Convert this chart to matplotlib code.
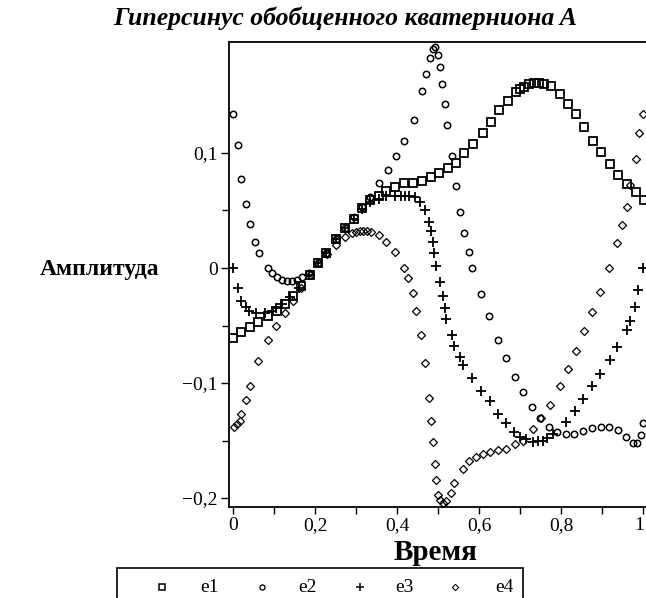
import matplotlib
matplotlib.use("Agg")
import matplotlib.pyplot as plt
import matplotlib.transforms as mtransforms
from matplotlib.lines import Line2D
from matplotlib.patches import Rectangle

plt.rcParams['font.family'] = ['Liberation Serif', 'DejaVu Serif']

# ---- data ----
e1_x = [0.00, 0.02, 0.042, 0.062, 0.086, 0.108, 0.128, 0.147, 0.166, 0.188, 0.208, 0.228,
        0.252, 0.274, 0.294, 0.314, 0.335, 0.355, 0.374, 0.396, 0.416, 0.440, 0.460, 0.482,
        0.502, 0.524, 0.543, 0.563, 0.585, 0.609, 0.629, 0.648, 0.670, 0.690, 0.700, 0.709,
        0.722, 0.734, 0.746, 0.758, 0.776, 0.797, 0.817, 0.837, 0.856, 0.878, 0.898, 0.920,
        0.939, 0.961, 0.983, 1.003]
e1_y = [-0.061, -0.056, -0.051, -0.047, -0.042, -0.037, -0.031, -0.024, -0.016, -0.006, 0.004, 0.013,
        0.025, 0.035, 0.043, 0.052, 0.059, 0.063, 0.067, 0.070, 0.074, 0.074, 0.076, 0.079,
        0.083, 0.087, 0.091, 0.100, 0.108, 0.117, 0.127, 0.137, 0.145, 0.153, 0.156, 0.157,
        0.160, 0.161, 0.161, 0.160, 0.158, 0.151, 0.143, 0.134, 0.123, 0.110, 0.101, 0.090,
        0.081, 0.073, 0.066, 0.059]

e2_x = [0.000, 0.012, 0.020, 0.032, 0.042, 0.054, 0.063, 0.086, 0.095, 0.108, 0.120, 0.132,
        0.144, 0.156, 0.168, 0.186, 0.208, 0.228, 0.252, 0.274, 0.294, 0.314, 0.335, 0.356,
        0.378, 0.398, 0.417, 0.442, 0.461, 0.471, 0.481, 0.489, 0.493, 0.500, 0.505, 0.510,
        0.516, 0.523, 0.533, 0.543, 0.553, 0.563, 0.575, 0.583, 0.605, 0.625, 0.646, 0.666,
        0.688, 0.708, 0.730, 0.749, 0.771, 0.790, 0.812, 0.832, 0.854, 0.876, 0.898, 0.917,
        0.939, 0.958, 0.975, 0.985, 0.995, 1.000]
e2_y = [0.134, 0.107, 0.077, 0.056, 0.038, 0.023, 0.013, 0.000, -0.004, -0.008, -0.010, -0.011,
        -0.011, -0.010, -0.008, -0.004, 0.004, 0.013, 0.025, 0.035, 0.044, 0.053, 0.062, 0.074,
        0.085, 0.097, 0.110, 0.129, 0.154, 0.169, 0.183, 0.190, 0.192, 0.185, 0.175, 0.160,
        0.143, 0.124, 0.097, 0.071, 0.049, 0.030, 0.014, 0.000, -0.023, -0.042, -0.063, -0.078,
        -0.095, -0.108, -0.121, -0.130, -0.138, -0.143, -0.144, -0.144, -0.142, -0.139, -0.138, -0.138,
        -0.141, -0.147, -0.152, -0.152, -0.145, -0.135]

e3_x = [0.000, 0.012, 0.020, 0.031, 0.040, 0.056, 0.078, 0.095, 0.105, 0.120, 0.140, 0.160,
        0.185, 0.208, 0.228, 0.252, 0.274, 0.294, 0.314, 0.335, 0.355, 0.374, 0.395, 0.410,
        0.420, 0.430, 0.445, 0.456, 0.468, 0.478, 0.483, 0.487, 0.491, 0.496, 0.505, 0.512,
        0.516, 0.520, 0.534, 0.540, 0.553, 0.561, 0.583, 0.605, 0.627, 0.646, 0.666, 0.685,
        0.700, 0.715, 0.732, 0.744, 0.756, 0.766, 0.780, 0.812, 0.834, 0.854, 0.876, 0.895,
        0.920, 0.937, 0.961, 0.968, 0.980, 0.988, 1.000]
e3_y = [0.000, -0.017, -0.029, -0.034, -0.037, -0.039, -0.039, -0.037, -0.035, -0.031, -0.025, -0.017,
        -0.006, 0.004, 0.013, 0.025, 0.035, 0.043, 0.051, 0.057, 0.060, 0.063, 0.063, 0.063,
        0.063, 0.063, 0.062, 0.057, 0.050, 0.040, 0.032, 0.023, 0.013, 0.002, -0.012, -0.024,
        -0.035, -0.044, -0.058, -0.068, -0.077, -0.084, -0.096, -0.107, -0.116, -0.127, -0.135, -0.143,
        -0.147, -0.149, -0.151, -0.150, -0.150, -0.148, -0.144, -0.134, -0.124, -0.114, -0.103, -0.092,
        -0.080, -0.069, -0.054, -0.046, -0.034, -0.019, 0.000]

e4_x = [0.003, 0.010, 0.017, 0.020, 0.032, 0.042, 0.062, 0.085, 0.105, 0.127, 0.146, 0.166,
        0.188, 0.208, 0.230, 0.252, 0.274, 0.290, 0.300, 0.310, 0.318, 0.326, 0.336, 0.355,
        0.374, 0.396, 0.416, 0.427, 0.439, 0.446, 0.459, 0.468, 0.479, 0.483, 0.488, 0.493,
        0.496, 0.499, 0.505, 0.512, 0.520, 0.532, 0.539, 0.561, 0.576, 0.593, 0.610, 0.627,
        0.646, 0.666, 0.688, 0.707, 0.732, 0.751, 0.773, 0.797, 0.817, 0.837, 0.856, 0.876,
        0.895, 0.918, 0.937, 0.950, 0.960, 0.968, 0.982, 0.990, 1.000]
e4_y = [-0.138, -0.136, -0.133, -0.127, -0.115, -0.103, -0.081, -0.063, -0.050, -0.039, -0.029, -0.017,
        -0.006, 0.004, 0.012, 0.020, 0.027, 0.030, 0.031, 0.032, 0.032, 0.032, 0.031, 0.029,
        0.023, 0.014, 0.000, -0.009, -0.022, -0.037, -0.058, -0.083, -0.113, -0.133, -0.151, -0.170,
        -0.184, -0.197, -0.202, -0.204, -0.203, -0.196, -0.187, -0.175, -0.168, -0.164, -0.162, -0.160,
        -0.158, -0.157, -0.153, -0.150, -0.140, -0.130, -0.119, -0.103, -0.088, -0.072, -0.055, -0.038,
        -0.021, 0.000, 0.022, 0.037, 0.053, 0.072, 0.095, 0.117, 0.134]

series_names = ['e1', 'e2', 'e3', 'e4']
x_ticks = [0, 0.2, 0.4, 0.6, 0.8, 1.0]
x_tick_labels = ['0', '0,2', '0,4', '0,6', '0,8', '1']
y_ticks = [-0.2, -0.1, 0.0, 0.1]
y_tick_labels = ['\u22120,2', '\u22120,1', '0', '0,1']

title_text = 'Гиперсинус обобщенного кватерниона A'
xlabel_text = 'Время'
ylabel_text = 'Амплитуда'

# ---- figure ----
W, H = 646, 598
fig = plt.figure(figsize=(W / 100, H / 100), dpi=100)

def fx(px):
    return px / W

def fy(py):
    return 1 - py / H

ax_l, ax_r, ax_t, ax_b = 229, 647, 42, 507
ax = fig.add_axes([fx(ax_l), fy(ax_b), fx(ax_r - ax_l), (ax_b - ax_t) / H])

styles = [
    dict(marker='s', ms=5.4, mew=1.3),
    dict(marker='o', ms=4.6, mew=1.1),
    dict(marker='+', ms=6.5, mew=1.3),
    dict(marker='D', ms=4.0, mew=0.9),
]
data = [(e1_x, e1_y), (e2_x, e2_y), (e3_x, e3_y), (e4_x, e4_y)]
for (xs, ys), st in zip(data, styles):
    ax.plot(xs, ys, linestyle='none', color='black', mfc='none', mec='black', **st)

ax.set_xlim(-0.0098, 1.0098)
ax.set_ylim(-0.2078, 0.1965)

ax.set_xticks(x_ticks)
ax.set_xticklabels(x_tick_labels)
ax.set_xticks([0.1, 0.3, 0.5, 0.7, 0.9], minor=True)
ax.set_yticks(y_ticks)
ax.set_yticklabels(y_tick_labels)
ax.set_yticks([-0.15, -0.05, 0.05], minor=True)

ax.tick_params(axis='both', which='both', direction='out', color='black', width=1.0)
ax.tick_params(axis='x', which='both', length=5)
ax.tick_params(axis='y', which='major', length=6)
ax.tick_params(axis='y', which='minor', length=5)
ax.tick_params(axis='both', which='major', labelsize=14, pad=2, labelcolor='black')

# keep the last x label ("1") inside the canvas, as in the reference
last_lbl = ax.get_xticklabels()[-1]
last_lbl.set_transform(last_lbl.get_transform() +
                       mtransforms.ScaledTranslation(-4 / 100, 0, fig.dpi_scale_trans))

for s in ['left', 'bottom', 'top']:
    ax.spines[s].set_linewidth(1.3)
    ax.spines[s].set_color('black')
ax.spines['right'].set_visible(False)

fig.text(fx(345), fy(18), title_text, ha='center', va='center',
         fontsize=18.5, fontweight='bold', fontstyle='italic')
fig.text(fx(100), fy(270), ylabel_text, ha='center', va='center',
         fontsize=17, fontweight='bold')
fig.text(fx(435), fy(553), xlabel_text, ha='center', va='center',
         fontsize=21, fontweight='bold')

# ---- legend (drawn in figure pixels) ----
fig.add_artist(Rectangle((fx(117), fy(612)), fx(523 - 117), (612 - 568) / H,
                         transform=fig.transFigure, facecolor='white',
                         edgecolor='black', linewidth=1.2))
leg_marker_px = [162, 262, 360, 455]
leg_text_px = [200, 298, 395, 495]
leg_y = 587
for name, st, mx, tx in zip(series_names, styles, leg_marker_px, leg_text_px):
    fig.add_artist(Line2D([fx(mx)], [fy(leg_y)], transform=fig.transFigure,
                          linestyle='none', color='black', mfc='none', mec='black',
                          marker=st['marker'], ms=st['ms'] * 0.8, mew=st['mew'] * 0.85))
    fig.text(fx(tx), fy(leg_y), name, ha='left', va='center', fontsize=14)

fig.savefig('out.png', dpi=100)
